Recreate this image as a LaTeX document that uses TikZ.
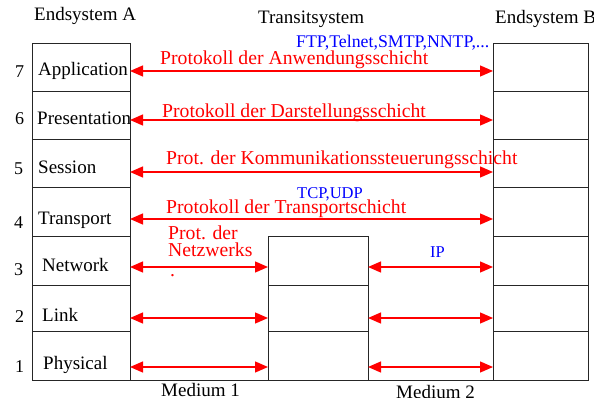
\documentclass[tikz,border=0pt]{standalone}
\usepackage{fontspec}
\setmainfont{Liberation Serif}
\usetikzlibrary{arrows.meta}
\begin{document}
\begin{tikzpicture}[x=1pt,y=-1pt,
  cell/.style={draw=black!85,line width=0.9pt,inner sep=0,outer sep=0,minimum width=98pt},
  cellB/.style={cell,minimum width=95pt},
  cellT/.style={cell,minimum width=100pt},
  proto/.style={draw=red,line width=1.3pt,{Triangle[length=13pt,width=11pt]}-{Triangle[length=13pt,width=11pt]}},
  txt/.style={inner sep=0,anchor=base west,font=\fontsize{19}{19}\selectfont},
  rtxt/.style={txt,text=red,font=\fontsize{19.7}{19.7}\selectfont},
  btxt/.style={txt,text=blue,font=\fontsize{16.5}{16.5}\selectfont},
  num/.style={txt,font=\fontsize{18}{18}\selectfont}]
\useasboundingbox (0,0) rectangle (594,398);
% End system A
\node[cell,minimum height=48pt] (A7) at (81,67) {};
\node[cell,minimum height=48pt] (A6) at (81,115) {};
\node[cell,minimum height=48pt] (A5) at (81,163) {};
\node[cell,minimum height=49pt] (A4) at (81,211.5) {};
\node[cell,minimum height=49pt] (A3) at (81,260.5) {};
\node[cell,minimum height=46pt] (A2) at (81,308) {};
\node[cell,minimum height=49pt] (A1) at (81,355.5) {};
% End system B
\node[cellB,minimum height=48pt] (B7) at (540.5,67) {};
\node[cellB,minimum height=48pt] (B6) at (540.5,115) {};
\node[cellB,minimum height=48pt] (B5) at (540.5,163) {};
\node[cellB,minimum height=49pt] (B4) at (540.5,211.5) {};
\node[cellB,minimum height=49pt] (B3) at (540.5,260.5) {};
\node[cellB,minimum height=46pt] (B2) at (540.5,308) {};
\node[cellB,minimum height=49pt] (B1) at (540.5,355.5) {};
% Transit system
\node[cellT,minimum height=49pt] (T3) at (318,260.5) {};
\node[cellT,minimum height=46pt] (T2) at (318,308) {};
\node[cellT,minimum height=49pt] (T1) at (318,355.5) {};
\draw[black!85,line width=0.9pt] (A1.south east) -- (T1.south west) (T1.south east) -- (B1.south west);
% layer names
\node[txt] (lA7) at (38,76) {Application};
\node[txt] (lA6) at (37,125) {Presentation};
\node[txt] (lA5) at (38,174) {Session};
\node[txt] (lA4) at (38,225) {Transport};
\node[txt] (lA3) at (42,271) {Network};
\node[txt] (lA2) at (42,321) {Link};
\node[txt] (lA1) at (43,369) {Physical};
% numbers
\node[num] (n7) at (15,78) {7};
\node[num] (n6) at (15,125) {6};
\node[num] (n5) at (14,175) {5};
\node[num] (n4) at (14,228) {4};
\node[num] (n3) at (14,275) {3};
\node[num] (n2) at (15,322) {2};
\node[num] (n1) at (15,372) {1};
% headers
\node[txt] (hA) at (34,21) {Endsystem A};
\node[txt] (hT) at (258,24) {Transitsystem};
\node[txt] (hB) at (495,24) {Endsystem B};
\node[txt] (m1) at (161,396) {Medium 1};
\node[txt] (m2) at (396,398) {Medium 2};
% arrows
\draw[proto] ([yshift=-4pt]A7.east) -- ([yshift=-4pt]B7.west);
\draw[proto] ([yshift=-5pt]A6.east) -- ([yshift=-5pt]B6.west);
\draw[proto] ([yshift=-9pt]A5.east) -- ([yshift=-9pt]B5.west);
\draw[proto] ([yshift=-7.5pt]A4.east) -- ([yshift=-7.5pt]B4.west);
\draw[proto] ([yshift=-6.5pt]A3.east) -- ([yshift=-6.5pt]T3.west);
\draw[proto] ([yshift=-6.5pt]T3.east) -- ([yshift=-6.5pt]B3.west);
\draw[proto] ([yshift=-10pt]A2.east) -- ([yshift=-10pt]T2.west);
\draw[proto] ([yshift=-10pt]T2.east) -- ([yshift=-10pt]B2.west);
\draw[proto] ([yshift=-11.5pt]A1.east) -- ([yshift=-11.5pt]T1.west);
\draw[proto] ([yshift=-11.5pt]T1.east) -- ([yshift=-11.5pt]B1.west);
% protocol labels
\node[btxt,font=\fontsize{17.8}{17.8}\selectfont] (p7b) at (296,48) {FTP,Telnet,SMTP,NNTP,...};
\node[rtxt] (p7) at (160,65) {Protokoll der Anwendungsschicht};
\node[rtxt] (p6) at (162,118) {Protokoll der Darstellungsschicht};
\node[rtxt] (p5) at (166,165) {Prot. der Kommunikationssteuerungsschicht};
\node[btxt] (p4b) at (297,199) {TCP,UDP};
\node[rtxt] (p4) at (166,214) {Protokoll der Transportschicht};
\node[rtxt] (p3a) at (168,240) {Prot. der};
\node[rtxt] (p3b) at (168,256) {Netzwerks};
\node[rtxt] (p3c) at (170,276) {.};
\node[btxt] (p3ip) at (430,257) {IP};
\end{tikzpicture}
\end{document}
